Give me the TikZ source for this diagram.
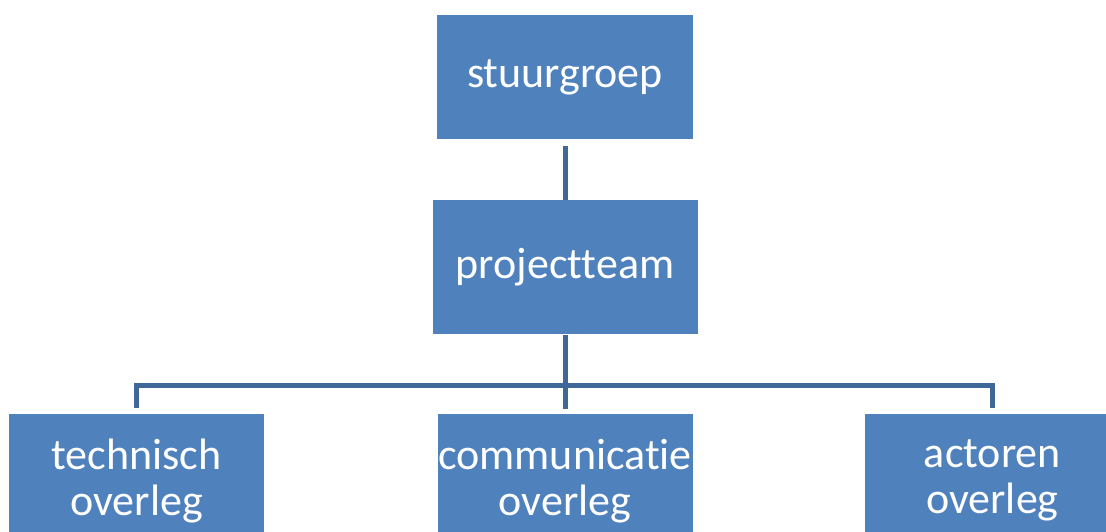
\documentclass[tikz,border=0pt]{standalone}
\usepackage{fontspec}
\setmainfont{Carlito}[Ligatures={NoCommon}]
\usepackage{xcolor}
\definecolor{colorBox}{HTML}{4F81BD}
\definecolor{colorLink}{HTML}{3F6797}
\usetikzlibrary{positioning}
\tikzset{orgbox/.style={draw=none, fill=colorBox, text=white, inner sep=0pt, align=center, minimum width=255pt, minimum height=134pt, font=\fontsize{44}{46}\selectfont}}
\tikzset{link/.style={draw=colorLink, line width=5pt}}

\begin{document}
\begin{tikzpicture}[x=1pt, y=-1pt, node distance=61pt]
\useasboundingbox (0,0) rectangle (1106,532);
\clip (0,0) rectangle (1106,532);
\node[orgbox, minimum width=256pt, minimum height=124pt] (stuur) at (565,77) {stuurgroep};
\node[orgbox, minimum width=265pt, below=of stuur] (proj) {projectteam};
\node[orgbox, below=79pt of proj] (comm) {communicatie\\overleg};
\node[orgbox, left=173pt of comm] (tech) {technisch\\overleg};
\node[orgbox, right=172pt of comm] (act) {actoren\\overleg};
\coordinate (bus) at (564,385);
\draw [link, shorten <=7pt] (stuur) -- (proj);
\draw [link, shorten >=5pt] (proj.south) -- (comm.north);
\draw [link, shorten <=6pt, shorten >=6pt] (tech.north) |- (bus) -| (act.north);
\end{tikzpicture}
\end{document}
